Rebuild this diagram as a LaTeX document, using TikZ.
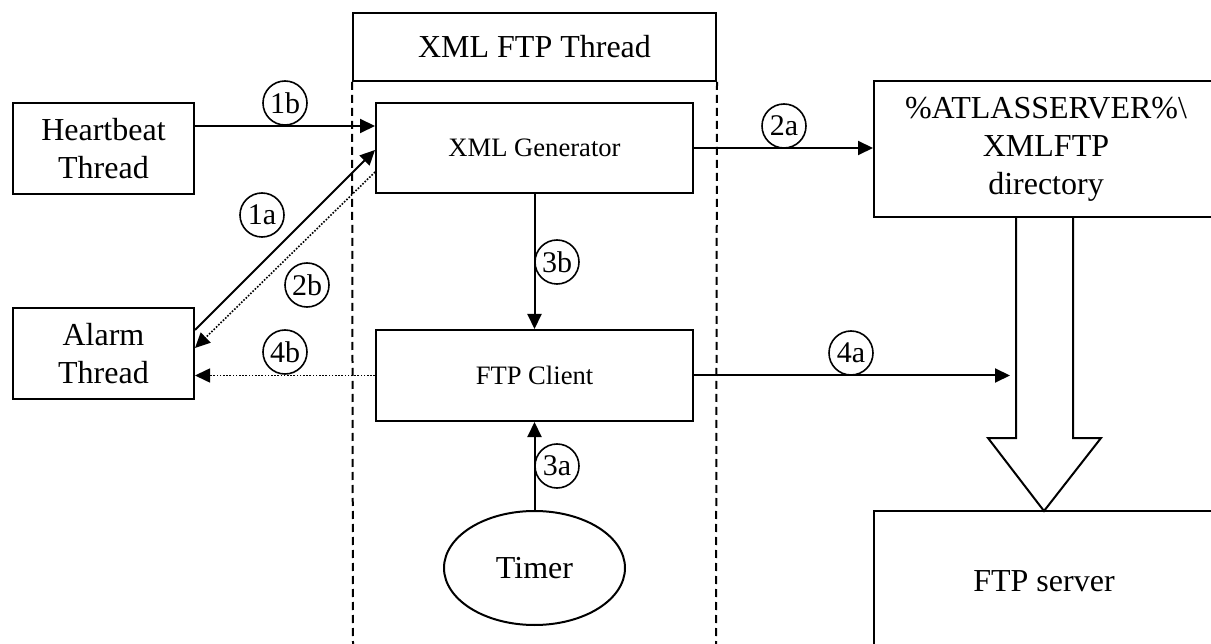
\documentclass[tikz,border=0pt]{standalone}
\usepackage{fontspec}
\setmainfont{Liberation Serif}
\usetikzlibrary{arrows.meta,shapes.geometric}
\begin{document}
\begin{tikzpicture}[x=1pt,y=-1pt,
  box/.style={draw,line width=2pt,inner sep=0pt,align=center},
  bigtxt/.style={font=\fontsize{32}{38}\selectfont},
  smalltxt/.style={font=\fontsize{26.6}{32}\selectfont},
  num/.style={draw,circle,line width=1.6pt,minimum size=44pt,inner sep=0pt,font=\fontsize{30}{32}\selectfont},
  conn/.style={line width=2pt,-{Triangle[length=15pt,width=14pt]}},
  dotconn/.style={line width=1.6pt,dash pattern=on 1.6pt off 1.6pt,-{Triangle[length=15pt,width=14pt]}},
  bound/.style={line width=2pt,dash pattern=on 8pt off 5pt}
]
\useasboundingbox (0,0) rectangle (1211,644);
\clip (0,0) rectangle (1211,644);
\fill[white] (0,0) rectangle (1211,644);

% thread frame
\node[box,bigtxt,minimum width=363pt,minimum height=68pt] (thread) at (534.5,47) {XML FTP Thread};
\coordinate (fl) at (353,644);
\coordinate (fr) at (716,644);
\draw[bound] (thread.south west) -- (fl);
\draw[bound] (thread.south east) -- (fr);

% nodes
\node[box,smalltxt,minimum width=317pt,minimum height=90pt] (gen) at (534.5,148) {XML Generator};
\node[box,smalltxt,minimum width=317pt,minimum height=91pt] (client) at (534.5,375.5) {FTP Client};
\node[box,bigtxt,minimum width=181pt,minimum height=91pt] (hb) at (103.5,148.5) {Heartbeat\\Thread};
\node[box,bigtxt,minimum width=181pt,minimum height=91pt] (alarm) at (103.5,353.5) {Alarm\\Thread};
\node[box,bigtxt,minimum width=344pt,minimum height=136pt] (dir) at (1046,149) {\%ATLASSERVER\%\textbackslash\\XMLFTP\\directory};
\node[box,bigtxt,minimum width=340pt,minimum height=140pt] (server) at (1044,581) {FTP server};
\node[draw,ellipse,line width=2pt,inner sep=0pt,bigtxt,minimum width=181pt,minimum height=114pt] (timer) at (534.5,568) {Timer};

% connectors
\draw[conn] (hb.east |- 0,126) -- (gen.west |- 0,126);
\draw[conn] (alarm.east |- 0,330) -- (gen.west |- 0,150);
\draw[dotconn] (gen.west |- 0,172) -- (alarm.east |- 0,348);
\draw[dotconn] (client.west) -- (alarm.east |- client.west);
\draw[conn] (gen.east) -- (dir.west |- gen.east);
\draw[conn] (gen.south) -- (client.north);
\draw[conn] (timer.north) -- (client.south);
\coordinate (a4end) at (1010,375.5);
\draw[conn] (client.east) -- (a4end);

% big hollow arrow
\draw[line width=2pt,line join=miter] (1016,217) -- (1016,438) -- (988,438) -- (1044,511) -- (1101,438) -- (1073,438) -- (1073,217);

% number circles
\node[num] (n1b) at (285,103) {1b};
\node[num] (n1a) at (262,215) {1a};
\node[num] (n2b) at (307,285) {2b};
\node[num] (n4b) at (285,352) {4b};
\node[num] (n3b) at (557,262) {3b};
\node[num] (n3a) at (557,466) {3a};
\node[num] (n2a) at (784,126) {2a};
\node[num] (n4a) at (851,353) {4a};
\end{tikzpicture}
\end{document}
